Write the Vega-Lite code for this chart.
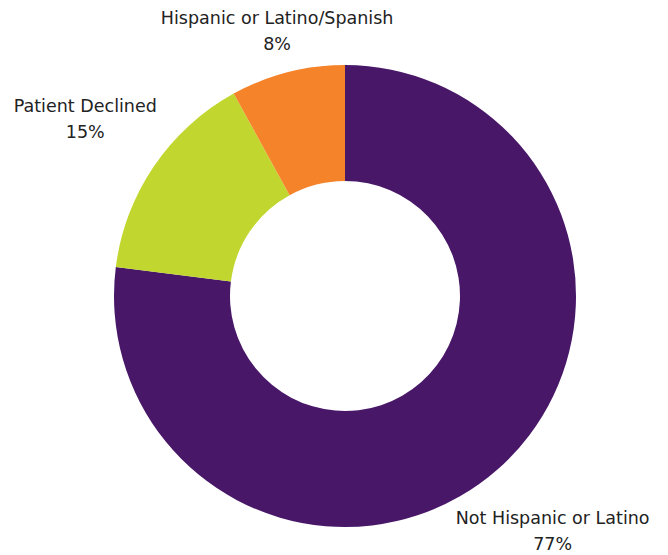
{
  "$schema": "https://vega.github.io/schema/vega-lite/v6.json",
  "width": 646,
  "height": 518,
  "autosize": {"type": "none"},
  "padding": {"left": 22, "top": 37, "right": 0, "bottom": 0},
  "background": "white",
  "config": {"view": {"stroke": null}},
  "data": {
    "values": [
      {"category": "Not Hispanic or Latino", "value": 0.77, "order": 1},
      {"category": "Patient Declined", "value": 0.15, "order": 2},
      {"category": "Hispanic or Latino/Spanish", "value": 0.08, "order": 3}
    ]
  },
  "encoding": {
    "theta": {"field": "value", "type": "quantitative", "stack": true},
    "order": {"field": "order", "type": "quantitative"}
  },
  "layer": [
    {
      "mark": {"type": "arc", "innerRadius": 115, "outerRadius": 231},
      "encoding": {
        "color": {
          "field": "category",
          "type": "nominal",
          "scale": {
            "domain": ["Not Hispanic or Latino", "Patient Declined", "Hispanic or Latino/Spanish"],
            "range": ["#481768", "#c1d72f", "#f5832a"]
          },
          "legend": null
        }
      }
    },
    {
      "mark": {
        "type": "text",
        "font": "DejaVu Sans",
        "fontSize": 17.5,
        "color": "#222222",
        "dy": -13,
        "radius": {"expr": "datum.category === 'Hispanic or Latino/Spanish' ? 273 : 314"}
      },
      "encoding": {"text": {"field": "category"}}
    },
    {
      "mark": {
        "type": "text",
        "font": "DejaVu Sans",
        "fontSize": 17.5,
        "color": "#222222",
        "dy": 13,
        "radius": {"expr": "datum.category === 'Hispanic or Latino/Spanish' ? 273 : 314"}
      },
      "encoding": {"text": {"field": "value", "type": "quantitative", "format": ".0%"}}
    }
  ]
}
